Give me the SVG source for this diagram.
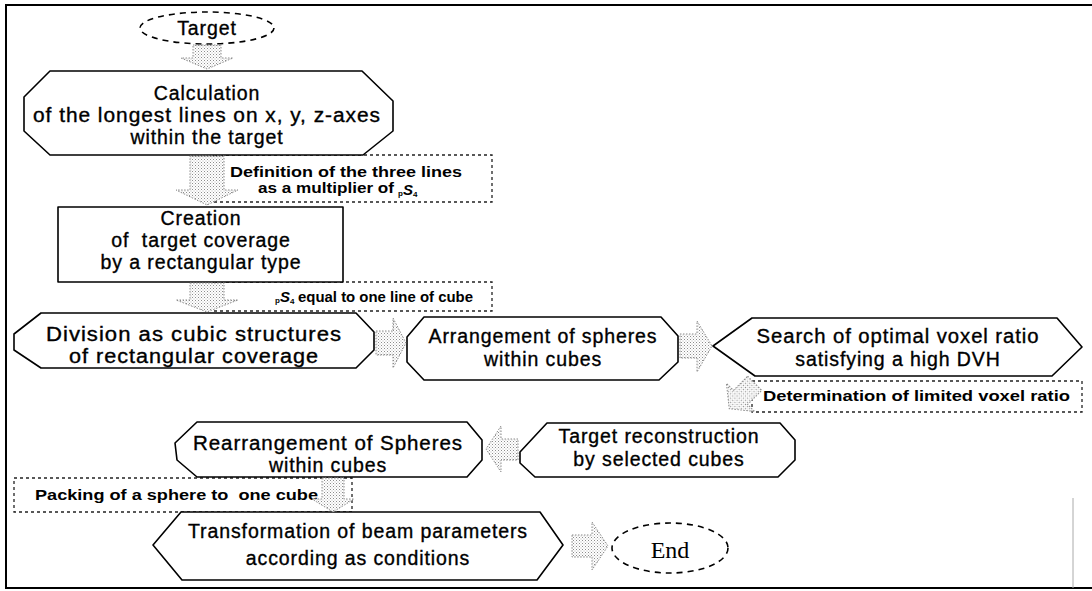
<svg xmlns="http://www.w3.org/2000/svg" width="1092" height="591" viewBox="0 0 1092 591">
<defs>
<pattern id="dots" width="3" height="3" patternUnits="userSpaceOnUse"><rect width="3" height="3" fill="#fff"/><rect x="0" y="0" width="1" height="1" fill="#8c8c8c"/><rect x="1.5" y="1.5" width="1" height="1" fill="#b4b4b4"/></pattern>
</defs>
<style>
.node{fill:#fff;stroke:#000;stroke-width:1.6;stroke-linejoin:round}
.term{fill:#fff;stroke:#000;stroke-width:1.6;stroke-dasharray:6 5}
.lbl{fill:#fff;stroke:#222;stroke-width:1.3;stroke-dasharray:3 3}
.arr{fill:url(#dots);stroke:#8a8a8a;stroke-width:1;stroke-dasharray:1.5 1.5}
.t{font-family:"Liberation Sans",Arial,sans-serif;font-size:19.5px;letter-spacing:0.9px;fill:#000;stroke:#000;stroke-width:0.35;text-anchor:middle}
.l{font-family:"Liberation Sans",Arial,sans-serif;font-size:15.5px;font-weight:bold;fill:#000}
.e{font-family:"Liberation Serif","Times New Roman",serif;font-size:24px;fill:#000;text-anchor:middle}
</style>
<g id="frame" fill="none">
<line x1="5" y1="5" x2="1092" y2="5" stroke="#000" stroke-width="2"/>
<line x1="6" y1="4" x2="6" y2="589" stroke="#000" stroke-width="2"/>
<line x1="5" y1="588" x2="1092" y2="588" stroke="#000" stroke-width="2"/>
<line x1="1073" y1="498" x2="1073" y2="588" stroke="#aaa" stroke-width="1"/>
</g>
<g id="label-definition">
<rect class="lbl" x="214" y="155" width="278" height="47"/>
<text class="l" x="230" y="177" textLength="232" lengthAdjust="spacingAndGlyphs">Definition of the three lines</text>
<text class="l" x="258" y="193" textLength="136" lengthAdjust="spacingAndGlyphs">as a multiplier of</text>
<text class="l" x="398" y="195"><tspan font-size="8" dy="1">p</tspan><tspan font-style="italic" font-size="15" dy="-1">S</tspan><tspan font-size="8" dy="2">4</tspan></text>
</g>
<g id="label-equal">
<rect class="lbl" x="214" y="282" width="278" height="29"/>
<text class="l" x="275" y="302"><tspan font-size="8" dy="1">p</tspan><tspan font-style="italic" font-size="15" dy="-1">S</tspan><tspan font-size="8" dy="2">4</tspan></text>
<text class="l" x="298" y="302" textLength="175" lengthAdjust="spacingAndGlyphs">equal to one line of cube</text>
</g>
<g id="label-determination">
<rect class="lbl" x="752" y="381" width="330" height="31"/>
<text class="l" x="763" y="401" textLength="307" lengthAdjust="spacingAndGlyphs">Determination of limited voxel ratio</text>
</g>
<g id="label-packing">
<rect class="lbl" x="14" y="478" width="338" height="34"/>
<text class="l" x="35" y="500" textLength="283" lengthAdjust="spacingAndGlyphs" xml:space="preserve">Packing of a sphere to  one cube</text>
</g>
<g id="target">
<ellipse class="term" cx="207" cy="28" rx="67" ry="16"/>
<text class="t" x="207" y="35">Target</text>
</g>
<g id="calculation">
<polygon class="node" points="50,71 362,71 393,101 393,131 363,155 50,155 24,131 24,97"/>
<text class="t" x="207" y="100">Calculation</text>
<text class="t" x="207" y="122" textLength="348" lengthAdjust="spacingAndGlyphs">of the longest lines on x, y, z-axes</text>
<text class="t" x="207" y="144">within the target</text>
</g>
<g id="creation">
<rect class="node" x="58" y="207" width="285" height="75"/>
<text class="t" x="201" y="225">Creation</text>
<text class="t" x="201" y="247" xml:space="preserve">of  target coverage</text>
<text class="t" x="201" y="269">by a rectangular type</text>
</g>
<g id="division">
<polygon class="node" points="41,313 356,313 374,332 374,350 356,368 41,368 14,350 14,334"/>
<text class="t" x="194" y="341" textLength="296" lengthAdjust="spacingAndGlyphs">Division as cubic structures</text>
<text class="t" x="194" y="363" textLength="250" lengthAdjust="spacingAndGlyphs">of rectangular coverage</text>
</g>
<g id="arrangement">
<polygon class="node" points="424,317 661,317 678,336 678,362 659,380 424,380 407,362 407,337"/>
<text class="t" x="543" y="343">Arrangement of spheres</text>
<text class="t" x="543" y="366">within cubes</text>
</g>
<g id="search">
<polygon class="node" points="713,346 752,318 1057,318 1082,347 1052,376 755,376"/>
<text class="t" x="898" y="343" textLength="283" lengthAdjust="spacingAndGlyphs">Search of optimal voxel ratio</text>
<text class="t" x="898" y="366">satisfying a high DVH</text>
</g>
<g id="reconstruction">
<polygon class="node" points="547,423 780,423 795,440 795,460 778,477 535,477 520,463 520,452"/>
<text class="t" x="659" y="443">Target reconstruction</text>
<text class="t" x="659" y="466">by selected cubes</text>
</g>
<g id="rearrangement">
<polygon class="node" points="197,422 467,422 482,440 482,460 467,477 197,477 177,460 175,443"/>
<text class="t" x="328" y="450" textLength="270" lengthAdjust="spacingAndGlyphs">Rearrangement of Spheres</text>
<text class="t" x="328" y="472">within cubes</text>
</g>
<g id="transformation">
<polygon class="node" points="181,512 540,512 563,545 537,580 182,580 153,545"/>
<text class="t" x="358" y="538">Transformation of beam parameters</text>
<text class="t" x="358" y="565">according as conditions</text>
</g>
<g id="end">
<ellipse class="term" cx="670" cy="548" rx="58" ry="25"/>
<text class="e" x="670" y="558">End</text>
</g>
<g id="connectors">
<polygon class="arr" points="193,45 221,45 221,58 233,58 207,69 181,58 193,58"/>
<polygon class="arr" points="190,156 224,156 224,190 238,190 207,205 176,190 190,190"/>
<polygon class="arr" points="190,283 224,283 224,300 238,300 207,312 176,300 190,300"/>
<polygon class="arr" points="376,331 393,331 393,318 406,343 393,368 393,355 376,355"/>
<polygon class="arr" points="680,334 697,334 697,321 712,346 697,372 697,358 680,358"/>
<polygon class="arr" transform="rotate(45 742 396)" points="732,378 752,378 752,398 762,398 742,414 722,398 732,398"/>
<polygon class="arr" points="518,439 501,439 501,426 486,449 501,472 501,460 518,460"/>
<polygon class="arr" points="322,478 344,478 344,499 354,499 333,512 312,499 322,499"/>
<polygon class="arr" points="572,535 592,535 592,522 608,546 592,570 592,557 572,557"/>
</g>
</svg>
